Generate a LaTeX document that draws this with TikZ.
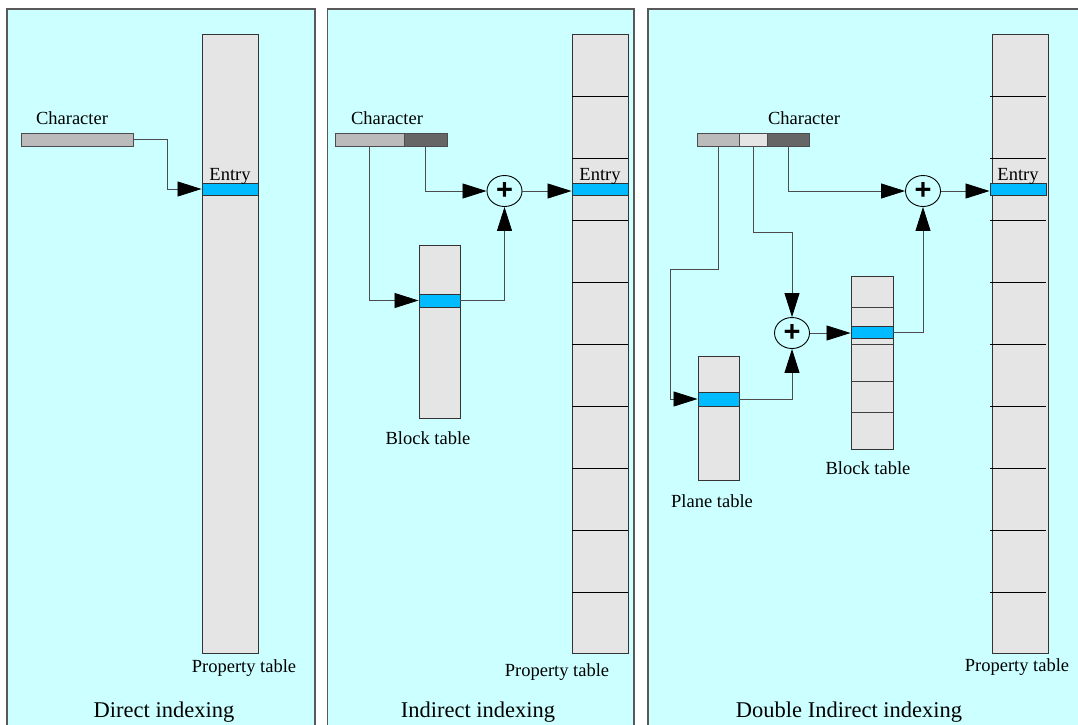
\documentclass[tikz,border=0pt]{standalone}
\usepackage{fontspec}
\setmainfont{Liberation Serif}
\newfontfamily\plusfont{Liberation Sans}
\usetikzlibrary{arrows.meta,shapes.geometric}
\definecolor{panelbg}{HTML}{CCFFFF}
\definecolor{tblgray}{HTML}{E5E5E5}
\definecolor{entryblue}{HTML}{00BBFF}
\definecolor{cLight}{HTML}{BBBBBB}
\definecolor{cMid}{HTML}{E5E5E5}
\definecolor{cDark}{HTML}{666666}
\tikzset{
  panel/.style={draw=black!65, line width=1.1pt, fill=panelbg},
  tbl/.style={draw=black!80, line width=0.9pt, fill=tblgray, inner sep=0pt, rectangle},
  entryband/.style={draw=black!80, line width=0.9pt, fill=entryblue, inner sep=0pt, rectangle},
  charseg/.style={draw=black!70, line width=0.9pt, inner sep=0pt, rectangle, minimum height=13pt},
  divline/.style={draw=black, line width=0.8pt},
  conn/.style={draw=black!70, line width=0.8pt, -{Triangle[length=24pt,width=15pt,color=black,fill=black]}},
  adder/.style={draw=black, line width=0.9pt, fill=panelbg, ellipse, inner sep=0pt, minimum width=35pt, minimum height=31pt, font=\plusfont\bfseries\fontsize{29}{29}\selectfont},
  lbl/.style={font=\fontsize{18.5}{20}\selectfont, inner sep=0pt},
  title/.style={font=\fontsize{22.5}{24}\selectfont, inner sep=0pt}
}
\begin{document}
\begin{tikzpicture}[x=1pt,y=-1pt]
\useasboundingbox (0,0) rectangle (1078,724);
\clip (0,0) rectangle (1078,724);
% panels
\draw[panel] (7,9) rectangle (315,760);
\draw[panel] (327.5,9) rectangle (634,760);
\draw[panel] (648,9) rectangle (1100,760);

% ---------------- Panel 1: Direct indexing
\node[tbl, minimum width=56pt, minimum height=619pt] (pt1) at (230,343.5) {};
\node[entryband, minimum width=56pt, minimum height=12pt] (e1) at (230,189) {};
\node[lbl, anchor=base] (en1) at (230,180) {Entry};
\node[charseg, fill=cLight, minimum width=112pt] (cb1) at (77,139.5) {};
\node[lbl, anchor=base] (ch1) at (72,124) {Character};
\draw[conn] (cb1.east) -- (167,139.5) |- (e1.west);
\node[lbl] (plbl1) at (244,668) {Property table};
\node[title] (t1) at (164,712) {Direct indexing};

% ---------------- Panel 2: Indirect indexing
\node[tbl, minimum width=56pt, minimum height=619pt] (pt2) at (600,343.5) {};
\foreach \yy in {96,158,220,282,344,406,468,530,592}
  \draw[divline] (572,\yy) -- (628,\yy);
\node[entryband, minimum width=56pt, minimum height=12pt] (e2) at (600,189) {};
\node[lbl, anchor=base] (en2) at (600,180) {Entry};
\node[tbl, minimum width=41pt, minimum height=173pt] (bt2) at (439.5,331.5) {};
\node[entryband, minimum width=41pt, minimum height=13pt] (b2e) at (439.5,300.5) {};
\node[lbl] (blbl2) at (428,438) {Block table};
\node[charseg, fill=cLight, minimum width=69pt] (l2) at (369.5,139.5) {};
\node[charseg, fill=cDark, minimum width=43pt] (d2) at (425.5,139.5) {};
\node[lbl, anchor=base] (ch2) at (387,124) {Character};
\node[adder] (c2) at (504.5,191) {+};
\draw[conn] (d2.south) |- (c2.west);
\draw[conn] (c2.east) -- (c2.east -| e2.west);
\draw[conn] (l2.south) |- (b2e.west);
\draw[conn] (b2e.east) -| (c2.south);
\node[lbl] (plbl2) at (557,672) {Property table};
\node[title] (t2) at (478,712) {Indirect indexing};

% ---------------- Panel 3: Double indirect indexing
\node[tbl, minimum width=56pt, minimum height=619pt] (pt3) at (1020,343.5) {};
\foreach \yy in {96,158,220,282,344,406,468,530,592}
  \draw[divline] (990,\yy) -- (1046,\yy);
\node[entryband, minimum width=56pt, minimum height=12pt] (e3) at (1018,189) {};
\node[lbl, anchor=base] (en3) at (1018,180) {Entry};
% block table
\node[tbl, minimum width=42pt, minimum height=173pt] (bt3) at (872,362.5) {};
\foreach \yy in {307,344,381,412}
  \draw[divline, draw=black!75] (851,\yy) -- (893,\yy);
\node[entryband, minimum width=42pt, minimum height=12pt] (be) at (872,332) {};
\node[lbl] (blbl3) at (868,468) {Block table};
% plane table
\node[tbl, minimum width=41pt, minimum height=124pt] (plt) at (718.5,418) {};
\node[entryband, minimum width=41pt, minimum height=14pt] (pe) at (718.5,399) {};
\node[lbl] (pllbl) at (712,501) {Plane table};
% character
\node[charseg, fill=cLight, minimum width=42pt] (l3) at (718,139.5) {};
\node[charseg, fill=cMid, minimum width=28pt] (m3) at (753,139.5) {};
\node[charseg, fill=cDark, minimum width=42pt] (d3) at (788,139.5) {};
\node[lbl, anchor=base] (ch3) at (804,124) {Character};
% adders
\node[adder] (c3a) at (923,191) {+};
\node[adder] (c3b) at (792,333) {+};
\draw[conn] (d3.south) |- (c3a.west);
\draw[conn] (c3a.east) -- (c3a.east -| e3.west);
\draw[conn] (m3.south) -- (753,232) -| (c3b.north);
\draw[conn] (l3.south) -- (718,269) -- (670,269) |- (pe.west);
\draw[conn] (pe.east) -| (c3b.south);
\draw[conn] (c3b.east) -- (c3b.east -| be.west);
\draw[conn] (be.east) -| (c3a.south);
\node[lbl] (plbl3) at (1017,667) {Property table};
\node[title] (t3) at (849,712) {Double Indirect indexing};
\end{tikzpicture}
\end{document}
